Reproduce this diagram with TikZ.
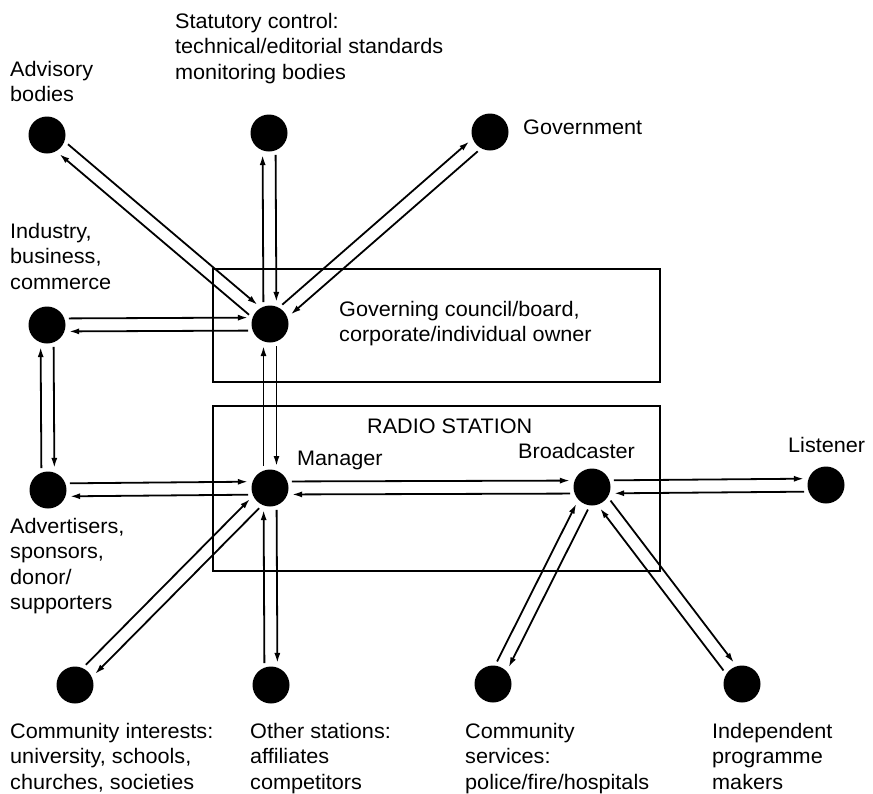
\documentclass[tikz,border=0pt]{standalone}
\usepackage{fontspec}
\setmainfont{Liberation Sans}[FakeStretch=1.03]
\usetikzlibrary{calc,arrows.meta}
\newcommand\pairarrows[2]{%
  \draw[conn] ($(#1.center)!6.5pt!90:(#2.center)$) -- ($(#2.center)!6.5pt!-90:(#1.center)$);
  \draw[conn] ($(#2.center)!6.5pt!90:(#1.center)$) -- ($(#1.center)!6.5pt!-90:(#2.center)$);}
\begin{document}
\begin{tikzpicture}[x=1pt,y=-1pt,
  dot/.style={circle,fill=black,minimum size=37pt,inner sep=0pt},
  lbl/.style={align=left,inner sep=0pt,font=\fontsize{21}{25.5}\selectfont},
  conn/.style={line width=1.8pt,-{Latex[length=10pt,width=6pt]},shorten <=22pt,shorten >=22pt},
  boxstyle/.style={draw,line width=1.7pt}]
\useasboundingbox (0,0) rectangle (873,793);
% boxes
\draw[boxstyle] (213,269) rectangle (660,382);
\draw[boxstyle] (213,406) rectangle (660,571);
% dots
\node[dot] (adv) at (47,135) {};
\node[dot] (stat) at (269,133) {};
\node[dot] (gov) at (490,132) {};
\node[dot] (ind) at (47,325) {};
\node[dot] (board) at (270,324) {};
\node[dot] (advt) at (48,490) {};
\node[dot] (mgr) at (270,488) {};
\node[dot] (brd) at (592,487) {};
\node[dot] (lis) at (826,485) {};
\node[dot] (comint) at (75,685) {};
\node[dot] (other) at (271,685) {};
\node[dot] (comserv) at (493,684) {};
\node[dot] (indep) at (742,684) {};
% connectors
\pairarrows{adv}{board}
\pairarrows{stat}{board}
\pairarrows{gov}{board}
\pairarrows{ind}{board}
\pairarrows{ind}{advt}
\pairarrows{board}{mgr}
\pairarrows{advt}{mgr}
\pairarrows{mgr}{brd}
\pairarrows{brd}{lis}
\pairarrows{mgr}{comint}
\pairarrows{mgr}{other}
\pairarrows{brd}{comserv}
\pairarrows{brd}{indep}
% labels
\node[lbl,anchor=north west] (tadv) at (10,61) {Advisory\\bodies};
\node[lbl,anchor=north west] (tstat) at (175,13) {Statutory control:\\technical/editorial standards\\monitoring bodies};
\node[lbl,anchor=base west] (tgov) at (523,134) {Government};
\node[lbl,anchor=north west] (tind) at (10,223) {Industry,\\business,\\commerce};
\node[lbl,anchor=north west] (tboard) at (339,301) {Governing council/board,\\corporate/individual owner};
\node[lbl,anchor=base west] (tradio) at (367,433) {RADIO STATION};
\node[lbl,anchor=base west] (tmgr) at (297,465) {Manager};
\node[lbl,anchor=base west] (tbrd) at (518,458) {Broadcaster};
\node[lbl,anchor=base west] (tlis) at (788,452) {Listener};
\node[lbl,anchor=north west] (tadvt) at (10,518) {Advertisers,\\sponsors,\\donor/\\supporters};
\node[lbl,anchor=north west] (tcomint) at (10,723) {Community interests:\\university, schools,\\churches, societies};
\node[lbl,anchor=north west] (tother) at (250,723) {Other stations:\\affiliates\\competitors};
\node[lbl,anchor=north west] (tcomserv) at (465,723) {Community\\services:\\police/fire/hospitals};
\node[lbl,anchor=north west] (tindep) at (712,723) {Independent\\programme\\makers};
\end{tikzpicture}
\end{document}
